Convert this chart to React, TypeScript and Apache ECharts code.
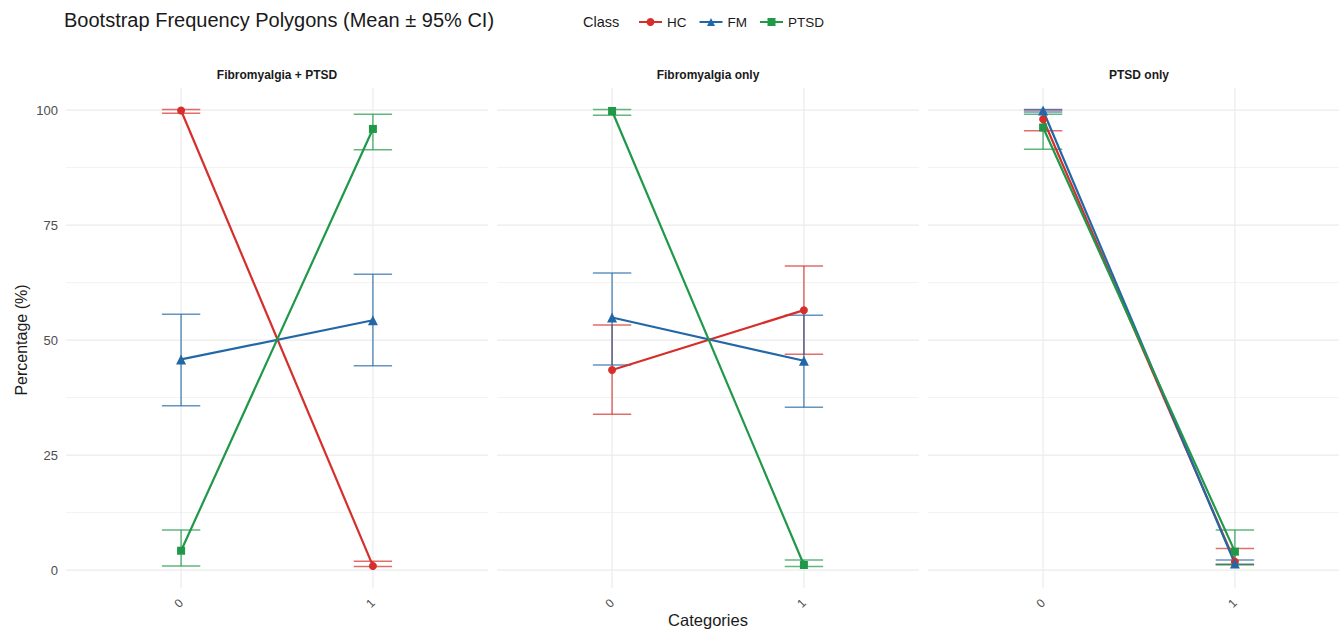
import React, { useEffect, useRef } from "react";
import * as echarts from "echarts";

// ---- data ----
const categories = [0, 1];
const categoryLabels = ["0", "1"];
const panels = ["Fibromyalgia + PTSD", "Fibromyalgia only", "PTSD only"];
const classes = ["HC", "FM", "PTSD"];

// means / CI per panel, per category (0, 1)
const HC_mean = [[99.9, 0.9], [43.5, 56.5], [98.0, 1.8]];
const HC_lo = [[99.3, 0.8], [33.9, 46.9], [95.5, 1.2]];
const HC_hi = [[100.1, 1.9], [53.3, 66.1], [100.0, 4.7]];

const FM_mean = [[45.8, 54.3], [54.9, 45.5], [99.9, 1.4]];
const FM_lo = [[35.7, 44.4], [44.6, 35.4], [99.6, 1.2]];
const FM_hi = [[55.6, 64.3], [64.6, 55.4], [100.1, 2.2]];

const PTSD_mean = [[4.2, 95.9], [99.8, 1.1], [96.2, 4.0]];
const PTSD_lo = [[0.9, 91.4], [98.9, 0.8], [91.5, 1.2]];
const PTSD_hi = [[8.7, 99.1], [100.1, 2.2], [99.1, 8.7]];

const yTicks = [0, 25, 50, 75, 100];
const yMinor = [12.5, 37.5, 62.5, 87.5];

const COLORS: Record<string, string> = { HC: "#D62F2B", FM: "#2268A6", PTSD: "#1F9848" };
const SYMBOLS: Record<string, string> = { HC: "circle", FM: "triangle", PTSD: "rect" };
const SYMSIZE: Record<string, number> = { HC: 8, FM: 10, PTSD: 8 };

const MEANS: Record<string, number[][]> = { HC: HC_mean, FM: FM_mean, PTSD: PTSD_mean };
const LOS: Record<string, number[][]> = { HC: HC_lo, FM: FM_lo, PTSD: PTSD_lo };
const HIS: Record<string, number[][]> = { HC: HC_hi, FM: FM_hi, PTSD: PTSD_hi };

const FONT = "'Liberation Sans', Arial, Helvetica, sans-serif";

function rgba(hex: string, a: number) {
  const n = parseInt(hex.slice(1), 16);
  return `rgba(${(n >> 16) & 255},${(n >> 8) & 255},${n & 255},${a})`;
}

export default function App() {
  const ref = useRef<HTMLDivElement>(null);

  useEffect(() => {
    if (!ref.current) return;
    const chart = echarts.init(ref.current, null, { renderer: "svg" });

    const gridLefts = [66, 497, 928];
    const gridWidth = 422;
    const grids = gridLefts.map((l) => ({
      left: l,
      width: gridWidth,
      top: 88,
      height: 500,
      containLabel: false,
      outerBoundsMode: "none",
    }));

    const xAxes = panels.map((_, i) => ({
      type: "value",
      gridIndex: i,
      min: -0.6,
      max: 1.6,
      axisLine: { show: false },
      axisTick: { show: false, customValues: categories },
      splitLine: { show: false },
      axisLabel: {
        customValues: categories,
        formatter: (v: number) => categoryLabels[categories.indexOf(v)] ?? "",
        rotate: 45,
        margin: 13,
        fontSize: 12,
        color: "#4D4D4D",
        fontFamily: FONT,
      },
    }));

    const yAxes = panels.map((_, i) => ({
      type: "value",
      gridIndex: i,
      min: -3.9,
      max: 104.8,
      axisLine: { show: false },
      axisTick: { show: false, customValues: yTicks },
      splitLine: { show: false },
      axisLabel: {
        show: i === 0,
        customValues: yTicks,
        margin: 8,
        fontSize: 13,
        color: "#4D4D4D",
        fontFamily: FONT,
      },
    }));

    const series: any[] = [];

    panels.forEach((_, p) => {
      // horizontal grid lines
      const hData = [
        ...yTicks.map((v) => [0, v, 1]),
        ...yMinor.map((v) => [0, v, 0]),
      ];
      series.push({
        type: "custom",
        name: "gridH" + p,
        xAxisIndex: p,
        yAxisIndex: p,
        silent: true,
        z: 0,
        clip: false,
        encode: { x: 0, y: 1 },
        data: hData,
        renderItem: (params: any, api: any) => {
          const cs = params.coordSys;
          const y = api.coord([0, api.value(1)])[1];
          const major = api.value(2) === 1;
          return {
            type: "line",
            shape: { x1: cs.x, y1: y, x2: cs.x + cs.width, y2: y },
            style: { stroke: major ? "#EBEBEB" : "#F0F0F0", lineWidth: major ? 1.2 : 0.9 },
          };
        },
      });
      // vertical grid lines
      series.push({
        type: "custom",
        name: "gridV" + p,
        xAxisIndex: p,
        yAxisIndex: p,
        silent: true,
        z: 0,
        clip: false,
        encode: { x: 0, y: 1 },
        data: categories.map((c) => [c, 50]),
        renderItem: (params: any, api: any) => {
          const cs = params.coordSys;
          const x = api.coord([api.value(0), 0])[0];
          return {
            type: "line",
            shape: { x1: x, y1: cs.y, x2: x, y2: cs.y + cs.height },
            style: { stroke: "#EBEBEB", lineWidth: 1.2 },
          };
        },
      });

      classes.forEach((c) => {
        const color = COLORS[c];
        // error bars
        series.push({
          type: "custom",
          name: c + " CI",
          xAxisIndex: p,
          yAxisIndex: p,
          silent: true,
          z: 2,
          clip: false,
          encode: { x: 0, y: [1, 2] },
          data: categories.map((x, k) => [x, LOS[c][p][k], HIS[c][p][k]]),
          renderItem: (params: any, api: any) => {
            const x = api.value(0);
            const pLo = api.coord([x, api.value(1)]);
            const pHi = api.coord([x, api.value(2)]);
            const half = api.size([0.1, 0])[0];
            const style = { stroke: rgba(color, 0.7), lineWidth: 1.5 };
            return {
              type: "group",
              children: [
                { type: "line", shape: { x1: pLo[0], y1: pLo[1], x2: pHi[0], y2: pHi[1] }, style },
                { type: "line", shape: { x1: pLo[0] - half, y1: pLo[1], x2: pLo[0] + half, y2: pLo[1] }, style },
                { type: "line", shape: { x1: pHi[0] - half, y1: pHi[1], x2: pHi[0] + half, y2: pHi[1] }, style },
              ],
            };
          },
        });
        // mean line
        series.push({
          type: "line",
          name: c,
          xAxisIndex: p,
          yAxisIndex: p,
          z: 3,
          data: categories.map((x, k) => [x, MEANS[c][p][k]]),
          symbol: SYMBOLS[c],
          symbolSize: SYMSIZE[c],
          showSymbol: true,
          lineStyle: { color, width: 2.2 },
          itemStyle: { color },
          emphasis: { disabled: true },
        });
      });
    });

    const stripCenters = gridLefts.map((l) => l + gridWidth / 2);

    chart.setOption({
      animation: false,
      backgroundColor: "#FFFFFF",
      title: {
        text: "Bootstrap Frequency Polygons (Mean \u00B1 95% CI)",
        left: 64,
        top: 10,
        padding: 0,
        textStyle: { fontSize: 20, fontWeight: "normal", color: "#1A1A1A", fontFamily: FONT },
      },
      legend: {
        data: classes,
        left: 638,
        top: 15,
        padding: 0,
        itemWidth: 23,
        itemHeight: 10,
        itemGap: 12,
        selectedMode: false,
        textStyle: { fontSize: 13.5, color: "#1A1A1A", fontFamily: FONT },
      },
      graphic: [
        {
          type: "text",
          x: 583,
          y: 22,
          style: {
            text: "Class",
            fontSize: 14.5,
            fill: "#1A1A1A",
            fontFamily: FONT,
            textVerticalAlign: "middle",
            verticalAlign: "middle",
          },
        },
        {
          type: "text",
          x: 708,
          y: 620,
          style: {
            text: "Categories",
            fontSize: 16.5,
            fill: "#1A1A1A",
            fontFamily: FONT,
            align: "center",
            verticalAlign: "middle",
          },
        },
        {
          type: "text",
          x: 21,
          y: 340,
          rotation: Math.PI / 2,
          style: {
            text: "Percentage (%)",
            fontSize: 16,
            fill: "#1A1A1A",
            fontFamily: FONT,
            align: "center",
            verticalAlign: "middle",
          },
        },
        ...panels.map((t, i) => ({
          type: "text",
          x: stripCenters[i],
          y: 75,
          style: {
            text: t,
            fontSize: 12,
            fontWeight: "bold",
            fill: "#1A1A1A",
            fontFamily: FONT,
            align: "center",
            verticalAlign: "middle",
          },
        })),
      ],
      grid: grids,
      xAxis: xAxes,
      yAxis: yAxes,
      series,
    });

    return () => chart.dispose();
  }, []);

  return (
    <div
      ref={ref}
      style={{ position: "absolute", left: 0, top: 0, width: 1339, height: 630, background: "#fff" }}
    />
  );
}
